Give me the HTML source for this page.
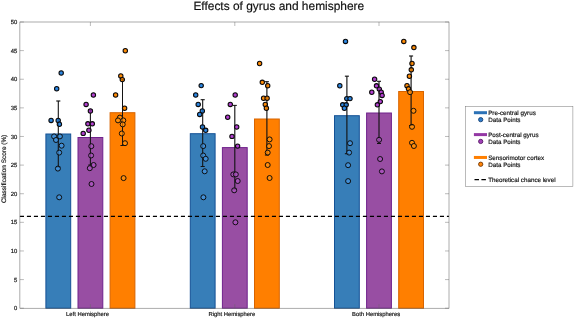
<!DOCTYPE html>
<html lang="en"><head><meta charset="utf-8"><title>Effects of gyrus and hemisphere</title>
<style>
html,body{margin:0;padding:0;background:#fff;}
body{width:575px;height:319px;overflow:hidden;}
svg{display:block;will-change:transform;}
text{font-family:'Liberation Sans', Arial, Helvetica, sans-serif;fill:#111;text-rendering:geometricPrecision;stroke:#111;stroke-width:0.17px;}
</style></head><body>
<svg width="575" height="319" viewBox="0 0 575 319">
<defs>
<radialGradient id="gb"><stop offset="0" stop-color="#3692E6"/><stop offset="1" stop-color="#186CCC"/></radialGradient>
<radialGradient id="gp"><stop offset="0" stop-color="#BA4ED6"/><stop offset="1" stop-color="#9A26B8"/></radialGradient>
<radialGradient id="go"><stop offset="0" stop-color="#FF9A08"/><stop offset="1" stop-color="#F07000"/></radialGradient>
</defs>
<rect width="575" height="319" fill="#fff"/>
<text x="278.8" y="10.05" font-size="11.93" text-anchor="middle" fill="#111">Effects of gyrus and hemisphere</text>
<rect x="45.90" y="134.00" width="24.80" height="174.20" fill="#377EB8" stroke="#145296" stroke-width="1.0"/>
<rect x="78.00" y="137.50" width="24.80" height="170.70" fill="#984EA3" stroke="#70228C" stroke-width="1.0"/>
<rect x="110.10" y="112.70" width="24.80" height="195.50" fill="#FF7F00" stroke="#D86400" stroke-width="1.0"/>
<rect x="190.30" y="133.70" width="24.80" height="174.50" fill="#377EB8" stroke="#145296" stroke-width="1.0"/>
<rect x="222.40" y="147.60" width="24.80" height="160.60" fill="#984EA3" stroke="#70228C" stroke-width="1.0"/>
<rect x="254.50" y="119.00" width="24.80" height="189.20" fill="#FF7F00" stroke="#D86400" stroke-width="1.0"/>
<rect x="334.50" y="115.70" width="24.80" height="192.50" fill="#377EB8" stroke="#145296" stroke-width="1.0"/>
<rect x="366.60" y="113.00" width="24.80" height="195.20" fill="#984EA3" stroke="#70228C" stroke-width="1.0"/>
<rect x="398.70" y="91.50" width="24.80" height="216.70" fill="#FF7F00" stroke="#D86400" stroke-width="1.0"/>
<path d="M58.30 101.00V167.00M56.30 101.00h4.0M56.30 167.00h4.0" stroke="#151515" stroke-width="1.0" fill="none"/>
<path d="M90.40 110.00V165.00M88.40 110.00h4.0M88.40 165.00h4.0" stroke="#151515" stroke-width="1.0" fill="none"/>
<path d="M122.50 79.50V145.50M120.50 79.50h4.0M120.50 145.50h4.0" stroke="#151515" stroke-width="1.0" fill="none"/>
<path d="M202.70 99.70V166.50M200.70 99.70h4.0M200.70 166.50h4.0" stroke="#151515" stroke-width="1.0" fill="none"/>
<path d="M234.80 105.40V189.00M232.80 105.40h4.0M232.80 189.00h4.0" stroke="#151515" stroke-width="1.0" fill="none"/>
<path d="M266.90 81.70V155.00M264.90 81.70h4.0M264.90 155.00h4.0" stroke="#151515" stroke-width="1.0" fill="none"/>
<path d="M346.90 76.20V153.70M344.90 76.20h4.0M344.90 153.70h4.0" stroke="#151515" stroke-width="1.0" fill="none"/>
<path d="M379.00 81.30V143.50M377.00 81.30h4.0M377.00 143.50h4.0" stroke="#151515" stroke-width="1.0" fill="none"/>
<path d="M411.10 56.00V125.50M409.10 56.00h4.0M409.10 125.50h4.0" stroke="#151515" stroke-width="1.0" fill="none"/>
<circle cx="61.2" cy="73.0" r="2.2" fill="url(#gb)" stroke="#0a0a0a" stroke-width="1.05"/>
<circle cx="56.7" cy="88.7" r="2.2" fill="url(#gb)" stroke="#0a0a0a" stroke-width="1.05"/>
<circle cx="51.1" cy="120.4" r="2.2" fill="url(#gb)" stroke="#0a0a0a" stroke-width="1.05"/>
<circle cx="58.2" cy="120.4" r="2.2" fill="url(#gb)" stroke="#0a0a0a" stroke-width="1.05"/>
<circle cx="59.4" cy="124.2" r="2.2" fill="url(#gb)" stroke="#0a0a0a" stroke-width="1.05"/>
<circle cx="54.1" cy="136.4" r="2.5" fill="#428FD6" stroke="#0a0a0a" stroke-width="0.95"/>
<circle cx="59.9" cy="136.4" r="2.5" fill="#428FD6" stroke="#0a0a0a" stroke-width="0.95"/>
<circle cx="56.0" cy="140.0" r="2.5" fill="#428FD6" stroke="#0a0a0a" stroke-width="0.95"/>
<circle cx="61.6" cy="145.7" r="2.5" fill="#428FD6" stroke="#0a0a0a" stroke-width="0.95"/>
<circle cx="59.2" cy="152.6" r="2.5" fill="#428FD6" stroke="#0a0a0a" stroke-width="0.95"/>
<circle cx="57.9" cy="168.6" r="2.5" fill="#428FD6" stroke="#0a0a0a" stroke-width="0.95"/>
<circle cx="59.2" cy="197.3" r="2.5" fill="#428FD6" stroke="#0a0a0a" stroke-width="0.95"/>
<circle cx="93.4" cy="95.0" r="2.2" fill="url(#gp)" stroke="#0a0a0a" stroke-width="1.05"/>
<circle cx="86.1" cy="104.4" r="2.2" fill="url(#gp)" stroke="#0a0a0a" stroke-width="1.05"/>
<circle cx="90.4" cy="111.0" r="2.2" fill="url(#gp)" stroke="#0a0a0a" stroke-width="1.05"/>
<circle cx="87.9" cy="123.8" r="2.2" fill="url(#gp)" stroke="#0a0a0a" stroke-width="1.05"/>
<circle cx="92.3" cy="123.8" r="2.2" fill="url(#gp)" stroke="#0a0a0a" stroke-width="1.05"/>
<circle cx="88.9" cy="130.2" r="2.2" fill="url(#gp)" stroke="#0a0a0a" stroke-width="1.05"/>
<circle cx="83.2" cy="133.4" r="2.2" fill="url(#gp)" stroke="#0a0a0a" stroke-width="1.05"/>
<circle cx="91.3" cy="146.2" r="2.5" fill="#A852BA" stroke="#0a0a0a" stroke-width="0.95"/>
<circle cx="91.1" cy="155.5" r="2.5" fill="#A852BA" stroke="#0a0a0a" stroke-width="0.95"/>
<circle cx="93.6" cy="165.0" r="2.5" fill="#A852BA" stroke="#0a0a0a" stroke-width="0.95"/>
<circle cx="89.8" cy="168.2" r="2.5" fill="#A852BA" stroke="#0a0a0a" stroke-width="0.95"/>
<circle cx="91.5" cy="184.0" r="2.5" fill="#A852BA" stroke="#0a0a0a" stroke-width="0.95"/>
<circle cx="125.3" cy="50.7" r="2.2" fill="url(#go)" stroke="#0a0a0a" stroke-width="1.05"/>
<circle cx="120.8" cy="75.9" r="2.2" fill="url(#go)" stroke="#0a0a0a" stroke-width="1.05"/>
<circle cx="122.3" cy="79.6" r="2.2" fill="url(#go)" stroke="#0a0a0a" stroke-width="1.05"/>
<circle cx="115.6" cy="95.0" r="2.2" fill="url(#go)" stroke="#0a0a0a" stroke-width="1.05"/>
<circle cx="124.6" cy="108.2" r="2.2" fill="url(#go)" stroke="#0a0a0a" stroke-width="1.05"/>
<circle cx="119.9" cy="117.6" r="2.5" fill="#FF8C0A" stroke="#0a0a0a" stroke-width="0.95"/>
<circle cx="118.0" cy="120.4" r="2.5" fill="#FF8C0A" stroke="#0a0a0a" stroke-width="0.95"/>
<circle cx="123.3" cy="120.4" r="2.5" fill="#FF8C0A" stroke="#0a0a0a" stroke-width="0.95"/>
<circle cx="122.7" cy="124.4" r="2.5" fill="#FF8C0A" stroke="#0a0a0a" stroke-width="0.95"/>
<circle cx="121.8" cy="133.5" r="2.5" fill="#FF8C0A" stroke="#0a0a0a" stroke-width="0.95"/>
<circle cx="125.0" cy="143.2" r="2.5" fill="#FF8C0A" stroke="#0a0a0a" stroke-width="0.95"/>
<circle cx="123.6" cy="178.1" r="2.5" fill="#FF8C0A" stroke="#0a0a0a" stroke-width="0.95"/>
<circle cx="201.2" cy="85.6" r="2.2" fill="url(#gb)" stroke="#0a0a0a" stroke-width="1.05"/>
<circle cx="195.7" cy="95.0" r="2.2" fill="url(#gb)" stroke="#0a0a0a" stroke-width="1.05"/>
<circle cx="198.2" cy="104.4" r="2.2" fill="url(#gb)" stroke="#0a0a0a" stroke-width="1.05"/>
<circle cx="202.3" cy="111.0" r="2.2" fill="url(#gb)" stroke="#0a0a0a" stroke-width="1.05"/>
<circle cx="199.7" cy="114.4" r="2.2" fill="url(#gb)" stroke="#0a0a0a" stroke-width="1.05"/>
<circle cx="202.5" cy="127.0" r="2.2" fill="url(#gb)" stroke="#0a0a0a" stroke-width="1.05"/>
<circle cx="205.7" cy="130.3" r="2.2" fill="url(#gb)" stroke="#0a0a0a" stroke-width="1.05"/>
<circle cx="203.2" cy="146.1" r="2.5" fill="#428FD6" stroke="#0a0a0a" stroke-width="0.95"/>
<circle cx="203.2" cy="155.5" r="2.5" fill="#428FD6" stroke="#0a0a0a" stroke-width="0.95"/>
<circle cx="205.7" cy="158.8" r="2.5" fill="#428FD6" stroke="#0a0a0a" stroke-width="0.95"/>
<circle cx="204.7" cy="171.3" r="2.5" fill="#428FD6" stroke="#0a0a0a" stroke-width="0.95"/>
<circle cx="203.4" cy="197.3" r="2.5" fill="#428FD6" stroke="#0a0a0a" stroke-width="0.95"/>
<circle cx="235.2" cy="95.0" r="2.2" fill="url(#gp)" stroke="#0a0a0a" stroke-width="1.05"/>
<circle cx="230.3" cy="104.4" r="2.2" fill="url(#gp)" stroke="#0a0a0a" stroke-width="1.05"/>
<circle cx="227.7" cy="117.2" r="2.2" fill="url(#gp)" stroke="#0a0a0a" stroke-width="1.05"/>
<circle cx="236.7" cy="127.0" r="2.2" fill="url(#gp)" stroke="#0a0a0a" stroke-width="1.05"/>
<circle cx="232.0" cy="136.4" r="2.2" fill="url(#gp)" stroke="#0a0a0a" stroke-width="1.05"/>
<circle cx="237.6" cy="146.1" r="2.2" fill="url(#gp)" stroke="#0a0a0a" stroke-width="1.05"/>
<circle cx="233.3" cy="174.4" r="2.5" fill="#A852BA" stroke="#0a0a0a" stroke-width="0.95"/>
<circle cx="235.8" cy="174.4" r="2.5" fill="#A852BA" stroke="#0a0a0a" stroke-width="0.95"/>
<circle cx="237.7" cy="181.0" r="2.5" fill="#A852BA" stroke="#0a0a0a" stroke-width="0.95"/>
<circle cx="234.2" cy="190.3" r="2.5" fill="#A852BA" stroke="#0a0a0a" stroke-width="0.95"/>
<circle cx="235.4" cy="222.3" r="2.5" fill="#A852BA" stroke="#0a0a0a" stroke-width="0.95"/>
<circle cx="259.6" cy="63.5" r="2.2" fill="url(#go)" stroke="#0a0a0a" stroke-width="1.05"/>
<circle cx="262.3" cy="82.3" r="2.2" fill="url(#go)" stroke="#0a0a0a" stroke-width="1.05"/>
<circle cx="267.7" cy="85.7" r="2.2" fill="url(#go)" stroke="#0a0a0a" stroke-width="1.05"/>
<circle cx="263.6" cy="98.2" r="2.2" fill="url(#go)" stroke="#0a0a0a" stroke-width="1.05"/>
<circle cx="267.1" cy="98.2" r="2.2" fill="url(#go)" stroke="#0a0a0a" stroke-width="1.05"/>
<circle cx="265.3" cy="104.4" r="2.2" fill="url(#go)" stroke="#0a0a0a" stroke-width="1.05"/>
<circle cx="266.4" cy="108.2" r="2.2" fill="url(#go)" stroke="#0a0a0a" stroke-width="1.05"/>
<circle cx="269.6" cy="139.4" r="2.5" fill="#FF8C0A" stroke="#0a0a0a" stroke-width="0.95"/>
<circle cx="269.0" cy="146.1" r="2.5" fill="#FF8C0A" stroke="#0a0a0a" stroke-width="0.95"/>
<circle cx="267.7" cy="152.6" r="2.5" fill="#FF8C0A" stroke="#0a0a0a" stroke-width="0.95"/>
<circle cx="267.7" cy="165.0" r="2.5" fill="#FF8C0A" stroke="#0a0a0a" stroke-width="0.95"/>
<circle cx="269.6" cy="178.0" r="2.5" fill="#FF8C0A" stroke="#0a0a0a" stroke-width="0.95"/>
<circle cx="345.5" cy="41.4" r="2.2" fill="url(#gb)" stroke="#0a0a0a" stroke-width="1.05"/>
<circle cx="339.8" cy="85.7" r="2.2" fill="url(#gb)" stroke="#0a0a0a" stroke-width="1.05"/>
<circle cx="346.8" cy="98.6" r="2.2" fill="url(#gb)" stroke="#0a0a0a" stroke-width="1.05"/>
<circle cx="350.0" cy="98.6" r="2.2" fill="url(#gb)" stroke="#0a0a0a" stroke-width="1.05"/>
<circle cx="342.7" cy="104.8" r="2.2" fill="url(#gb)" stroke="#0a0a0a" stroke-width="1.05"/>
<circle cx="346.2" cy="104.8" r="2.2" fill="url(#gb)" stroke="#0a0a0a" stroke-width="1.05"/>
<circle cx="344.4" cy="108.2" r="2.2" fill="url(#gb)" stroke="#0a0a0a" stroke-width="1.05"/>
<circle cx="350.0" cy="143.2" r="2.5" fill="#428FD6" stroke="#0a0a0a" stroke-width="0.95"/>
<circle cx="349.1" cy="152.6" r="2.5" fill="#428FD6" stroke="#0a0a0a" stroke-width="0.95"/>
<circle cx="348.1" cy="165.2" r="2.5" fill="#428FD6" stroke="#0a0a0a" stroke-width="0.95"/>
<circle cx="348.1" cy="181.1" r="2.5" fill="#428FD6" stroke="#0a0a0a" stroke-width="0.95"/>
<circle cx="374.6" cy="79.2" r="2.2" fill="url(#gp)" stroke="#0a0a0a" stroke-width="1.05"/>
<circle cx="376.5" cy="85.8" r="2.2" fill="url(#gp)" stroke="#0a0a0a" stroke-width="1.05"/>
<circle cx="379.3" cy="89.1" r="2.2" fill="url(#gp)" stroke="#0a0a0a" stroke-width="1.05"/>
<circle cx="371.8" cy="92.2" r="2.2" fill="url(#gp)" stroke="#0a0a0a" stroke-width="1.05"/>
<circle cx="381.2" cy="92.2" r="2.2" fill="url(#gp)" stroke="#0a0a0a" stroke-width="1.05"/>
<circle cx="382.1" cy="95.4" r="2.2" fill="url(#gp)" stroke="#0a0a0a" stroke-width="1.05"/>
<circle cx="380.3" cy="101.6" r="2.2" fill="url(#gp)" stroke="#0a0a0a" stroke-width="1.05"/>
<circle cx="377.4" cy="104.8" r="2.2" fill="url(#gp)" stroke="#0a0a0a" stroke-width="1.05"/>
<circle cx="379.1" cy="139.8" r="2.5" fill="#A852BA" stroke="#0a0a0a" stroke-width="0.95"/>
<circle cx="380.1" cy="159.0" r="2.5" fill="#A852BA" stroke="#0a0a0a" stroke-width="0.95"/>
<circle cx="381.9" cy="171.4" r="2.5" fill="#A852BA" stroke="#0a0a0a" stroke-width="0.95"/>
<circle cx="403.8" cy="41.4" r="2.2" fill="url(#go)" stroke="#0a0a0a" stroke-width="1.05"/>
<circle cx="413.9" cy="47.6" r="2.2" fill="url(#go)" stroke="#0a0a0a" stroke-width="1.05"/>
<circle cx="412.0" cy="63.5" r="2.2" fill="url(#go)" stroke="#0a0a0a" stroke-width="1.05"/>
<circle cx="411.3" cy="69.8" r="2.2" fill="url(#go)" stroke="#0a0a0a" stroke-width="1.05"/>
<circle cx="409.4" cy="76.2" r="2.2" fill="url(#go)" stroke="#0a0a0a" stroke-width="1.05"/>
<circle cx="407.0" cy="85.7" r="2.2" fill="url(#go)" stroke="#0a0a0a" stroke-width="1.05"/>
<circle cx="408.5" cy="88.8" r="2.2" fill="url(#go)" stroke="#0a0a0a" stroke-width="1.05"/>
<circle cx="410.1" cy="92.2" r="2.5" fill="#FF8C0A" stroke="#0a0a0a" stroke-width="0.95"/>
<circle cx="413.5" cy="110.8" r="2.5" fill="#FF8C0A" stroke="#0a0a0a" stroke-width="0.95"/>
<circle cx="412.0" cy="126.8" r="2.5" fill="#FF8C0A" stroke="#0a0a0a" stroke-width="0.95"/>
<circle cx="412.0" cy="142.8" r="2.5" fill="#FF8C0A" stroke="#0a0a0a" stroke-width="0.95"/>
<circle cx="413.9" cy="146.0" r="2.5" fill="#FF8C0A" stroke="#0a0a0a" stroke-width="0.95"/>
<path d="M58.30 101.00V167.00M56.30 101.00h4.0M56.30 167.00h4.0" stroke="#151515" stroke-width="1.0" fill="none" opacity="0.3"/>
<path d="M90.40 110.00V165.00M88.40 110.00h4.0M88.40 165.00h4.0" stroke="#151515" stroke-width="1.0" fill="none" opacity="0.3"/>
<path d="M122.50 79.50V145.50M120.50 79.50h4.0M120.50 145.50h4.0" stroke="#151515" stroke-width="1.0" fill="none" opacity="0.3"/>
<path d="M202.70 99.70V166.50M200.70 99.70h4.0M200.70 166.50h4.0" stroke="#151515" stroke-width="1.0" fill="none" opacity="0.3"/>
<path d="M234.80 105.40V189.00M232.80 105.40h4.0M232.80 189.00h4.0" stroke="#151515" stroke-width="1.0" fill="none" opacity="0.3"/>
<path d="M266.90 81.70V155.00M264.90 81.70h4.0M264.90 155.00h4.0" stroke="#151515" stroke-width="1.0" fill="none" opacity="0.3"/>
<path d="M346.90 76.20V153.70M344.90 76.20h4.0M344.90 153.70h4.0" stroke="#151515" stroke-width="1.0" fill="none" opacity="0.3"/>
<path d="M379.00 81.30V143.50M377.00 81.30h4.0M377.00 143.50h4.0" stroke="#151515" stroke-width="1.0" fill="none" opacity="0.3"/>
<path d="M411.10 56.00V125.50M409.10 56.00h4.0M409.10 125.50h4.0" stroke="#151515" stroke-width="1.0" fill="none" opacity="0.3"/>
<line x1="19.9" y1="216.4" x2="449.0" y2="216.4" stroke="#000" stroke-width="1.3" stroke-dasharray="4.1 2.9"/>
<rect x="19.9" y="22.0" width="429.10" height="286.20" fill="none" stroke="#5a5a5a" stroke-width="0.5"/>
<text x="17.2" y="310.25" font-size="5.9" text-anchor="end">0</text>
<text x="17.2" y="281.63" font-size="5.9" text-anchor="end">5</text>
<text x="17.2" y="253.01" font-size="5.9" text-anchor="end">10</text>
<text x="17.2" y="224.39" font-size="5.9" text-anchor="end">15</text>
<text x="17.2" y="195.77" font-size="5.9" text-anchor="end">20</text>
<text x="17.2" y="167.15" font-size="5.9" text-anchor="end">25</text>
<text x="17.2" y="138.53" font-size="5.9" text-anchor="end">30</text>
<text x="17.2" y="109.91" font-size="5.9" text-anchor="end">35</text>
<text x="17.2" y="81.29" font-size="5.9" text-anchor="end">40</text>
<text x="17.2" y="52.67" font-size="5.9" text-anchor="end">45</text>
<text x="17.2" y="24.05" font-size="5.9" text-anchor="end">50</text>
<path d="M19.9 308.20h4.0M449.0 308.20h-4.0M19.9 279.58h4.0M449.0 279.58h-4.0M19.9 250.96h4.0M449.0 250.96h-4.0M19.9 222.34h4.0M449.0 222.34h-4.0M19.9 193.72h4.0M449.0 193.72h-4.0M19.9 165.10h4.0M449.0 165.10h-4.0M19.9 136.48h4.0M449.0 136.48h-4.0M19.9 107.86h4.0M449.0 107.86h-4.0M19.9 79.24h4.0M449.0 79.24h-4.0M19.9 50.62h4.0M449.0 50.62h-4.0M19.9 22.00h4.0M449.0 22.00h-4.0M90.4 308.2v-4.0M90.4 22.0v4.0M234.8 308.2v-4.0M234.8 22.0v4.0M379.0 308.2v-4.0M379.0 22.0v4.0" stroke="#666" stroke-width="0.45" fill="none"/>
<text x="87.5" y="316.2" font-size="5.85" text-anchor="middle">Left Hemisphere</text>
<text x="231.9" y="316.2" font-size="5.85" text-anchor="middle">Right Hemisphere</text>
<text x="376.1" y="316.2" font-size="5.85" text-anchor="middle">Both Hemispheres</text>
<text transform="translate(6.4 168.9) rotate(-90)" font-size="6.45" text-anchor="middle">Classification Score (%)</text>
<rect x="465.4" y="106.4" width="107.50" height="79.90" fill="#fff" stroke="#777" stroke-width="0.5"/>
<line x1="473.9" y1="112.70" x2="487.0" y2="112.70" stroke="#2C72B6" stroke-width="3.0"/>
<text x="488.2" y="114.80" font-size="6.25">Pre-central gyrus</text>
<circle cx="480.7" cy="119.65" r="2.15" fill="#2E7CCB" stroke="#103C70" stroke-width="0.85"/>
<text x="488.2" y="122.20" font-size="6.25">Data Points</text>
<line x1="473.9" y1="134.60" x2="487.0" y2="134.60" stroke="#9438A4" stroke-width="3.0"/>
<text x="488.2" y="136.70" font-size="6.25">Post-central gyrus</text>
<circle cx="480.7" cy="141.45" r="2.15" fill="#A040B8" stroke="#52145E" stroke-width="0.85"/>
<text x="488.2" y="144.00" font-size="6.25">Data Points</text>
<line x1="473.9" y1="157.45" x2="487.0" y2="157.45" stroke="#FF7F00" stroke-width="3.0"/>
<text x="488.2" y="159.55" font-size="6.25">Sensorimotor cortex</text>
<circle cx="480.7" cy="164.25" r="2.15" fill="#FF8408" stroke="#6A3000" stroke-width="0.85"/>
<text x="488.2" y="166.80" font-size="6.25">Data Points</text>
<line x1="474.5" y1="179.70" x2="486.2" y2="179.70" stroke="#000" stroke-width="1.3" stroke-dasharray="4.5 2.4"/>
<text x="488.2" y="181.70" font-size="6.25">Theoretical chance level</text>
</svg></body></html>
